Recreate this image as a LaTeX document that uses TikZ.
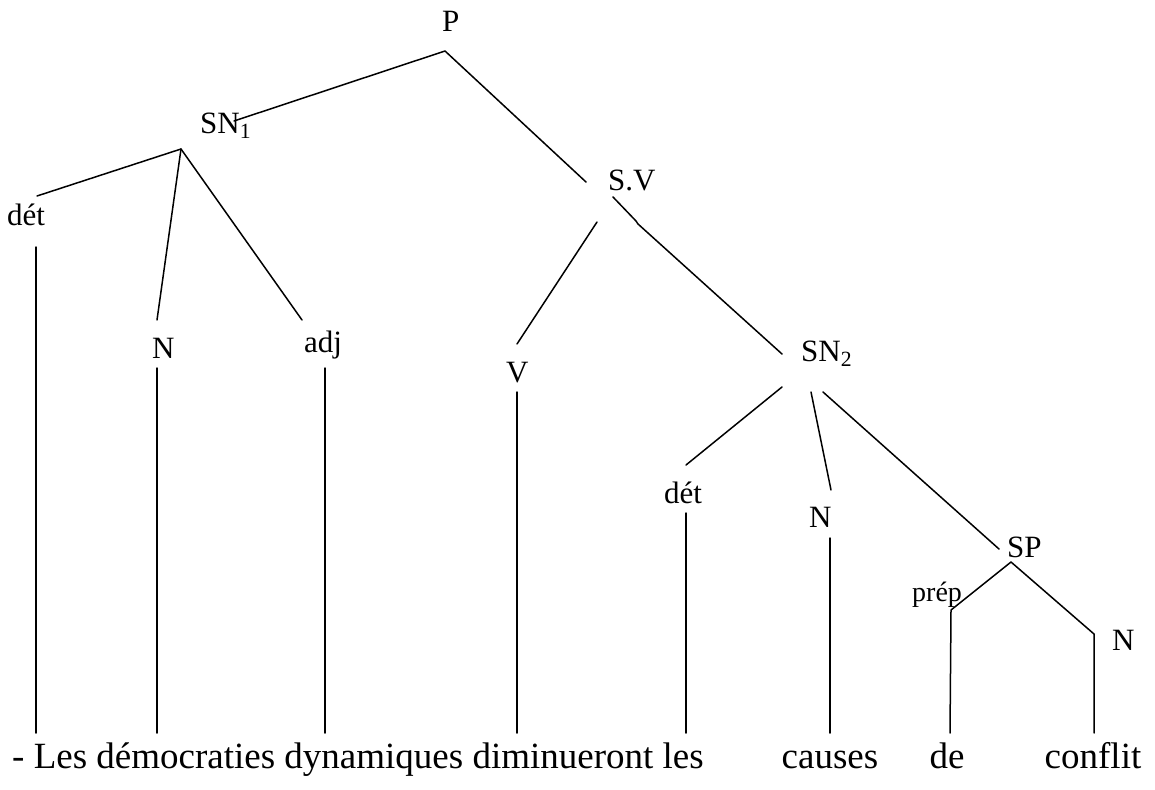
\documentclass[tikz,border=0pt]{standalone}
\usepackage{fontspec}
\setmainfont{Liberation Serif}
\begin{document}
\begin{tikzpicture}[x=1pt,y=-1pt,
  lbl/.style={inner sep=0pt, anchor=base west, font=\fontsize{31}{36}\selectfont},
  small/.style={inner sep=0pt, anchor=base west, font=\fontsize{28}{32}\selectfont},
  word/.style={inner sep=0pt, anchor=base, font=\fontsize{37}{42}\selectfont},
  edge/.style={line width=1.5pt, line cap=round, line join=round}]
\useasboundingbox (0,0) rectangle (1155,789);

% labels
\node[lbl] (P)    at (442,32)  {P};
\node[lbl] (SN1)  at (200,133) {SN\textsubscript{1}};
\node[lbl] (SV)   at (608,190) {S.V};
\node[lbl] (det1) at (7,225)   {dét};
\node[lbl] (N1)   at (152,358) {N};
\node[lbl] (adj)  at (304,352) {adj};
\node[lbl] (V)    at (506,382) {V};
\node[lbl] (SN2)  at (801,361) {SN\textsubscript{2}};
\node[lbl] (det2) at (664,503) {dét};
\node[lbl] (N2)   at (809,527) {N};
\node[lbl] (SP)   at (1007,557) {SP};
\node[small] (prep) at (912,601) {prép};
\node[lbl] (N3)   at (1112,650) {N};

% sentence
\node[word, anchor=base west] (s1) at (12,768) {- Les démocraties dynamiques diminueront les};
\node[word] (s2) at (830,768) {causes};
\node[word] (s3) at (947,768) {de};
\node[word] (s4) at (1093,768) {conflit};

% branch points
\coordinate (pA)   at (445,51);
\coordinate (pL)   at (234,121);
\coordinate (pR)   at (586,182);
\coordinate (snA)  at (181,149);
\coordinate (snD)  at (37,196);
\coordinate (snN)  at (157,320);
\coordinate (snJ)  at (302,320);
\coordinate (dT)   at (36,247);
\coordinate (dB)   at (36,733);
\coordinate (nT)   at (157,368);
\coordinate (nB)   at (157,733);
\coordinate (aT)   at (325,368);
\coordinate (aB)   at (325,733);
\coordinate (svL)  at (597,222);
\coordinate (svV)  at (517,344);
\coordinate (svR)  at (613,197);
\coordinate (svK1) at (636,221);
\coordinate (svK2) at (638,224);
\coordinate (svS)  at (782,354);
\coordinate (vT)   at (517,392);
\coordinate (vB)   at (517,733);
\coordinate (s2L)  at (782,387);
\coordinate (s2D)  at (686,465);
\coordinate (s2M)  at (811,392);
\coordinate (s2N)  at (831,490);
\coordinate (s2R)  at (823,392);
\coordinate (s2P)  at (999,549);
\coordinate (d2T)  at (686,513);
\coordinate (d2B)  at (686,733);
\coordinate (n2T)  at (830,538);
\coordinate (n2B)  at (830,733);
\coordinate (spA)  at (1011,562);
\coordinate (spP)  at (951,610);
\coordinate (spPB) at (950,733);
\coordinate (spN)  at (1094,634);
\coordinate (spNB) at (1094,733);

% edges
\draw[edge] (pL) -- (pA) -- (pR);
\draw[edge] (snD) -- (snA);
\draw[edge] (snA) -- (snN);
\draw[edge] (snA) -- (snJ);
\draw[edge] (dT) -- (dB);
\draw[edge] (nT) -- (nB);
\draw[edge] (aT) -- (aB);
\draw[edge] (svL) -- (svV);
\draw[edge] (svR) -- (svK1) -- (svK2) -- (svS);
\draw[edge] (vT) -- (vB);
\draw[edge] (s2L) -- (s2D);
\draw[edge] (s2M) -- (s2N);
\draw[edge] (s2R) -- (s2P);
\draw[edge] (d2T) -- (d2B);
\draw[edge] (n2T) -- (n2B);
\draw[edge] (spPB) -- (spP) -- (spA) -- (spN) -- (spNB);
\end{tikzpicture}
\end{document}
